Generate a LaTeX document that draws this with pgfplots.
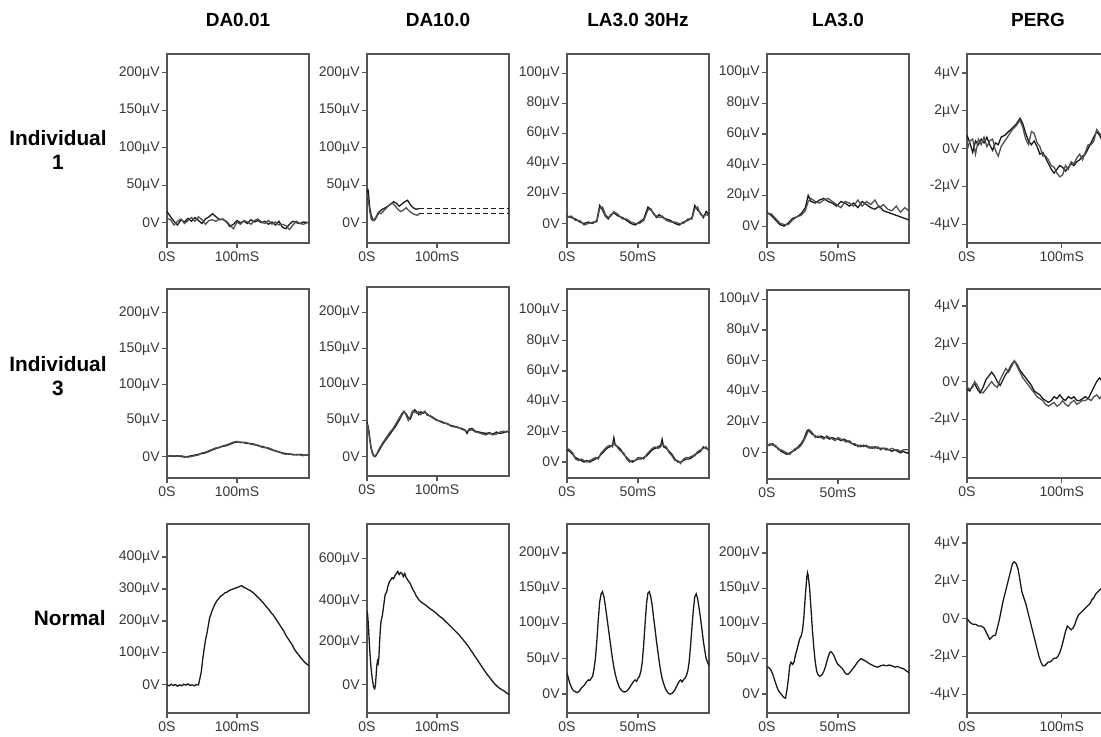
\documentclass[border=0pt]{standalone}
\usepackage{fontspec}
\setmainfont{Liberation Sans}
\usepackage{pgfplots}
\pgfplotsset{compat=1.18}
\definecolor{axgray}{RGB}{85,85,85}
\definecolor{lblgray}{RGB}{55,55,55}
\definecolor{trA}{RGB}{25,25,25}
\definecolor{trB}{RGB}{80,80,80}
\pgfplotsset{
 erg/.style={scale only axis, width=71pt, height=94.5pt, anchor=north west,
  axis line style={draw=axgray, line width=0.75pt},
  tick align=outside, tick pos=left, major tick length=2.5pt,
  tick style={draw=axgray, line width=0.6pt},
  ticklabel style={font=\fontsize{7}{8}\selectfont, text=lblgray},
  yticklabel style={inner sep=1pt}, xticklabel style={inner sep=1.5pt},
  every axis plot/.append style={line width=0.65pt, mark=none}},
 da/.style={xmin=0,xmax=203,xtick={0,100},xticklabels={0S,100mS}},
 daY/.style={ytick={0,50,100,150,200},yticklabels={0V,50µV,100µV,150µV,200µV}},
 la/.style={xmin=0,xmax=100,xtick={0,50},xticklabels={0S,50mS}},
 laY/.style={ytick={0,20,40,60,80,100},yticklabels={0V,20µV,40µV,60µV,80µV,100µV}},
 perg/.style={xmin=0,xmax=150,xtick={0,100},xticklabels={0S,100mS},ymin=-5,ymax=5,
   ytick={-4,-2,0,2,4},yticklabels={-4µV,-2µV,0V,2µV,4µV}},
 A/.style={draw=trA}, B/.style={draw=trB},
}
\begin{document}
\begin{tikzpicture}
\useasboundingbox (0,0) rectangle (550.5pt,368pt);
% titles
\foreach \x/\t in {119/DA0.01,219/DA10.0,319/LA3.0 30Hz,419/LA3.0,519/PERG}
  \node[font=\bfseries\fontsize{9.5}{11}\selectfont] at (\x pt,358pt) {\t};
\node[font=\bfseries\fontsize{10.4}{12}\selectfont, align=center] at (29pt,293pt) {Individual\\1};
\node[font=\bfseries\fontsize{10.4}{12}\selectfont, align=center] at (29pt,180pt) {Individual\\3};
\node[font=\bfseries\fontsize{10.4}{12}\selectfont, anchor=east, inner sep=0pt] at (53pt,59pt) {Normal};

% ---------------- Row 1 ----------------
\begin{axis}[erg, da, daY, at={(83.5pt,341pt)}, ymin=-27, ymax=225]
\addplot[A] coordinates {(0,15)(5,8)(10,2)(15,-3)(20,4)(25,1)(30,6)(35,2)(40,7)(45,3)(50,-1)(55,5)(60,8)(65,12)(70,8)(75,4)(80,5)(85,1)(90,-5)(95,-2)(100,3)(105,0)(110,2)(115,-1)(120,4)(125,1)(130,3)(135,0)(140,2)(145,-2)(150,1)(155,-3)(160,2)(165,-6)(170,-8)(175,-2)(180,2)(185,0)(190,-1)(195,1)(203,0)};
\addplot[B] coordinates {(0,6)(5,4)(10,-3)(15,2)(20,5)(25,-1)(30,3)(35,7)(40,2)(45,8)(50,4)(55,-2)(60,3)(65,4)(70,2)(75,5)(80,4)(85,2)(90,-3)(95,-8)(100,1)(105,-2)(110,3)(115,1)(120,-2)(125,3)(130,5)(135,1)(140,-1)(145,3)(150,-2)(155,1)(160,-3)(165,-2)(170,-4)(175,-9)(180,-3)(185,2)(190,-1)(195,-2)(203,1)};
\end{axis}
\begin{axis}[erg, da, daY, at={(183.5pt,341pt)}, ymin=-27, ymax=225]
\addplot[A] coordinates {(0,45)(1,35)(2,40)(4,20)(6,10)(8,5)(10,3)(12,5)(15,10)(18,15)(22,18)(26,20)(30,22)(34,25)(38,28)(42,26)(46,22)(50,25)(54,28)(58,30)(62,24)(66,20)(70,18)(75,19)};
\addplot[B] coordinates {(0,40)(2,30)(4,15)(6,5)(8,3)(10,4)(13,8)(16,14)(20,12)(24,16)(28,20)(32,24)(36,26)(40,23)(44,18)(48,15)(52,17)(56,20)(60,16)(64,13)(68,11)(72,10)(75,12)};
\addplot[A, dash pattern=on 2.5pt off 1.5pt] coordinates {(75,19)(203,19)};
\addplot[A, dash pattern=on 2.5pt off 1.5pt] coordinates {(75,12)(203,12)};
\end{axis}
\begin{axis}[erg, la, laY, at={(283.5pt,341pt)}, ymin=-13, ymax=113]
\addplot[A] coordinates {(0,5)(3,4)(6,3)(9,1)(12,0)(15,1)(18,0)(21,2)(23,12)(25,9)(27,5)(29,3)(31,6)(33,7)(36,5)(39,4)(42,2)(45,0)(48,-1)(51,1)(54,3)(57,11)(59,9)(61,7)(63,4)(65,6)(67,4)(70,3)(73,2)(76,0)(79,-1)(82,1)(85,2)(88,4)(90,12)(92,9)(94,7)(96,4)(98,8)(100,6)};
\addplot[B] coordinates {(0,4)(3,5)(6,2)(9,2)(12,-1)(15,0)(18,1)(21,1)(23,10)(25,11)(27,6)(29,4)(31,5)(33,8)(36,6)(39,3)(42,3)(45,1)(48,0)(51,0)(54,2)(57,9)(59,10)(61,6)(63,5)(65,4)(67,5)(70,2)(73,1)(76,1)(79,0)(82,0)(85,3)(88,3)(90,10)(92,11)(94,6)(96,5)(98,6)(100,5)};
\end{axis}
\begin{axis}[erg, la, laY, at={(383.5pt,341pt)}, ymin=-11, ymax=112]
\addplot[A] coordinates {(0,9)(3,7)(6,4)(9,1)(12,0)(15,2)(18,5)(21,6)(24,8)(27,12)(29,20)(31,16)(34,15)(37,17)(40,18)(43,16)(46,15)(49,13)(52,16)(55,15)(58,13)(61,15)(64,12)(67,16)(70,14)(73,12)(76,11)(79,13)(82,10)(85,9)(88,8)(91,7)(94,6)(97,5)(100,4)};
\addplot[B] coordinates {(0,8)(3,8)(6,5)(9,2)(12,1)(15,1)(18,4)(21,6)(24,7)(27,10)(29,16)(31,18)(34,16)(37,15)(40,17)(43,18)(46,16)(49,14)(52,12)(55,16)(58,15)(61,13)(64,17)(67,13)(70,16)(73,14)(76,17)(79,12)(82,14)(85,11)(88,10)(91,13)(94,9)(97,12)(100,10)};
\end{axis}
\begin{axis}[erg, perg, at={(483.5pt,341pt)}]
\addplot[A] coordinates {(0,0.7)(3,0.3)(6,-0.2)(9,0.4)(12,0.2)(15,0.5)(18,0.3)(21,0.6)(24,0.2)(27,-0.1)(30,0.3)(33,0.2)(36,0.6)(40,0.7)(44,0.9)(48,1.1)(52,1.3)(56,1.6)(59,1.3)(62,0.8)(65,0.4)(68,0.2)(71,0.4)(74,0.1)(77,-0.3)(80,-0.2)(83,-0.5)(86,-0.8)(89,-1.1)(92,-1.3)(95,-1.1)(98,-0.9)(101,-1.0)(104,-1.2)(107,-1.0)(110,-0.8)(113,-0.9)(116,-0.7)(119,-0.6)(122,-0.4)(125,-0.3)(128,0.0)(131,0.3)(134,0.6)(137,0.9)(140,0.7)(143,0.4)(146,0.6)(150,0.9)};
\addplot[B] coordinates {(0,-0.1)(3,0.4)(6,0.5)(9,-0.3)(12,0.5)(15,0.2)(18,0.6)(21,0.1)(24,0.4)(27,0.5)(30,-0.1)(33,-0.4)(36,0.1)(40,0.4)(44,0.7)(48,1.0)(52,1.2)(56,1.5)(59,1.1)(62,0.5)(65,0.2)(68,0.9)(71,0.8)(74,0.3)(77,0.1)(80,-0.4)(83,-0.4)(86,-0.6)(89,-0.9)(92,-1.0)(95,-1.3)(98,-1.5)(101,-1.4)(104,-0.9)(107,-1.1)(110,-0.7)(113,-0.8)(116,-0.5)(119,-0.3)(122,-0.6)(125,-0.2)(128,0.2)(131,0.2)(134,0.4)(137,1.0)(140,0.8)(143,0.6)(146,0.3)(150,0.7)};
\end{axis}

% ---------------- Row 2 ----------------
\begin{axis}[erg, da, daY, at={(83.5pt,223.5pt)}, ymin=-30, ymax=233]
\addplot[A] coordinates {(0,0)(5,1)(10,0)(15,1)(20,0)(25,-1)(30,0)(35,1)(40,2)(45,3)(50,4)(55,5)(60,7)(65,9)(70,11)(75,13)(80,14)(85,15)(90,17)(95,19)(100,20)(105,20)(110,19)(115,18)(120,18)(125,17)(130,15)(135,14)(140,13)(145,11)(150,9)(155,8)(160,6)(165,5)(170,4)(175,3)(180,3)(185,2)(190,3)(195,2)(203,2)};
\addplot[B] coordinates {(0,1)(5,0)(10,1)(15,0)(20,1)(25,0)(30,-1)(35,0)(40,1)(45,2)(50,5)(55,6)(60,8)(65,10)(70,12)(75,12)(80,15)(85,16)(90,18)(95,20)(100,21)(105,19)(110,20)(115,19)(120,17)(125,16)(130,16)(135,13)(140,12)(145,12)(150,10)(155,7)(160,7)(165,4)(170,3)(175,4)(180,2)(185,3)(190,2)(195,1)(203,3)};
\end{axis}
\begin{axis}[erg, da, daY, at={(183.5pt,224.5pt)}, ymin=-27, ymax=235]
\addplot[A] coordinates {(0,48)(2,40)(4,25)(6,12)(8,5)(10,1)(12,0)(14,3)(17,8)(20,13)(23,18)(26,22)(29,26)(32,30)(35,34)(38,38)(41,42)(44,47)(47,52)(50,58)(53,62)(56,59)(59,54)(62,52)(65,60)(68,65)(71,62)(74,58)(77,62)(80,60)(83,61)(86,59)(90,56)(95,53)(100,50)(105,49)(110,47)(115,45)(120,43)(125,42)(130,40)(135,39)(140,37)(143,32)(146,38)(150,39)(155,35)(160,34)(165,33)(170,32)(175,33)(180,31)(185,34)(190,32)(195,33)(200,35)(203,34)};
\addplot[B] coordinates {(0,45)(2,38)(4,22)(6,10)(8,3)(10,0)(12,1)(14,4)(17,10)(20,15)(23,20)(26,24)(29,28)(32,33)(35,36)(38,40)(41,45)(44,50)(47,55)(50,60)(53,63)(56,57)(59,50)(62,55)(65,63)(68,62)(71,60)(74,62)(77,58)(80,61)(83,63)(86,57)(90,57)(95,54)(100,51)(105,48)(110,46)(115,46)(120,42)(125,41)(130,41)(135,38)(140,36)(143,35)(146,36)(150,37)(155,34)(160,33)(165,31)(170,30)(175,32)(180,30)(185,31)(190,34)(195,35)(200,34)(203,36)};
\end{axis}
\begin{axis}[erg, la, laY, at={(283.5pt,223.5pt)}, ymin=-10.5, ymax=114]
\addplot[A] coordinates {(0,8)(2,7)(4,5)(6,3)(8,2)(10,1)(12,0)(14,1)(16,0)(18,1)(20,2)(22,3)(24,5)(26,7)(28,9)(30,10)(32,11)(33,16)(34,11)(36,10)(38,8)(40,5)(42,3)(44,1)(46,0)(48,1)(50,2)(52,2)(54,3)(56,4)(58,6)(60,8)(62,9)(64,10)(66,11)(67,15)(68,10)(70,9)(72,7)(74,5)(76,2)(78,0)(80,0)(82,1)(84,2)(86,2)(88,3)(90,5)(92,6)(94,7)(96,10)(98,9)(100,8)};
\addplot[B] coordinates {(0,9)(2,8)(4,6)(6,2)(8,1)(10,2)(12,1)(14,0)(16,1)(18,2)(20,3)(22,2)(24,6)(26,8)(28,10)(30,11)(32,10)(33,13)(34,12)(36,9)(38,7)(40,6)(42,2)(44,0)(46,1)(48,1)(50,3)(52,3)(54,2)(56,5)(58,7)(60,9)(62,10)(64,9)(66,10)(67,12)(68,11)(70,10)(72,6)(74,4)(76,1)(78,1)(80,-1)(82,2)(84,3)(86,3)(88,4)(90,4)(92,7)(94,8)(96,9)(98,10)(100,7)};
\end{axis}
\begin{axis}[erg, la, laY, at={(383.5pt,223pt)}, ymin=-17, ymax=106]
\addplot[A] coordinates {(0,5)(2,5)(4,6)(6,4)(8,3)(10,1)(12,0)(14,-1)(16,0)(18,1)(20,2)(22,4)(24,6)(26,9)(28,14)(29,15)(30,14)(32,12)(34,11)(36,10)(38,11)(40,10)(42,10)(44,9)(46,10)(48,9)(50,9)(52,8)(54,9)(56,8)(58,7)(60,6)(62,5)(64,5)(66,4)(68,5)(70,4)(72,4)(74,3)(76,4)(78,3)(80,3)(82,3)(84,2)(86,2)(88,1)(90,2)(92,1)(94,0)(96,1)(98,0)(100,0)};
\addplot[B] coordinates {(0,4)(2,6)(4,5)(6,5)(8,2)(10,2)(12,1)(14,0)(16,-1)(18,1)(20,3)(22,3)(24,5)(26,8)(28,12)(29,14)(30,15)(32,13)(34,10)(36,11)(38,10)(40,9)(42,11)(44,10)(46,9)(48,8)(50,10)(52,9)(54,8)(56,7)(58,8)(60,6)(62,6)(64,4)(66,5)(68,4)(70,5)(72,3)(74,4)(76,3)(78,4)(80,2)(82,3)(84,3)(86,2)(88,3)(90,2)(92,2)(94,1)(96,2)(98,2)(100,2)};
\end{axis}
\begin{axis}[erg, perg, at={(483.5pt,223.5pt)}, ymin=-5.1, ymax=4.9]
\addplot[A] coordinates {(0,-0.4)(3,-0.5)(6,-0.2)(8,-0.1)(11,-0.4)(14,-0.6)(17,-0.3)(20,0.1)(23,0.3)(26,0.5)(29,0.3)(32,0)(35,-0.2)(38,0.1)(41,0.4)(44,0.6)(47,0.9)(50,1.1)(53,0.9)(56,0.6)(59,0.4)(62,0.2)(65,0)(68,-0.2)(71,-0.5)(74,-0.6)(77,-0.7)(80,-0.9)(83,-1.0)(86,-1.1)(89,-1.0)(92,-0.8)(95,-0.9)(98,-0.7)(101,-0.9)(104,-1.0)(107,-0.8)(110,-0.9)(113,-0.8)(116,-1.0)(119,-1.0)(122,-0.9)(125,-0.8)(128,-0.9)(131,-0.6)(134,-0.3)(137,0)(140,0.2)(143,0.0)(146,-0.1)(150,0.1)};
\addplot[B] coordinates {(0,-0.3)(3,-0.4)(6,-0.3)(8,0)(11,-0.2)(14,-0.5)(17,-0.6)(20,-0.4)(23,-0.2)(26,0.0)(29,-0.2)(32,-0.3)(35,0.1)(38,0.4)(41,0.7)(44,0.5)(47,0.8)(50,1.1)(53,0.8)(56,0.5)(59,0.2)(62,0)(65,-0.2)(68,-0.4)(71,-0.6)(74,-0.8)(77,-0.9)(80,-1.0)(83,-1.2)(86,-1.3)(89,-1.2)(92,-1.1)(95,-1.3)(98,-1.2)(101,-1.0)(104,-1.2)(107,-1.3)(110,-1.1)(113,-1.0)(116,-1.2)(119,-1.1)(122,-1.0)(125,-1.0)(128,-0.9)(131,-1.0)(134,-0.8)(137,-0.7)(140,-0.9)(143,-0.7)(146,-0.6)(150,-0.5)};
\end{axis}

% ---------------- Row 3 ----------------
\begin{axis}[erg, da, at={(83.5pt,106pt)}, ymin=-88, ymax=503, ytick={0,100,200,300,400}, yticklabels={0V,100µV,200µV,300µV,400µV}]
\addplot[A] coordinates {(0,0)(3,-3)(6,2)(9,-2)(12,1)(15,-4)(18,0)(21,-3)(24,2)(27,-1)(30,3)(33,-2)(36,0)(39,-3)(42,1)(45,0)(47,20)(49,40)(51,80)(53,110)(55,140)(57,160)(59,185)(61,210)(63,222)(65,235)(68,250)(71,262)(74,270)(77,278)(80,282)(83,288)(86,290)(89,295)(92,298)(95,300)(98,303)(101,305)(104,308)(107,310)(110,305)(113,302)(116,298)(119,295)(122,290)(125,285)(128,278)(131,272)(134,265)(137,258)(140,250)(143,242)(146,235)(149,225)(152,218)(155,208)(158,198)(161,188)(164,178)(167,168)(170,155)(173,145)(176,135)(179,125)(182,112)(185,102)(188,95)(191,85)(194,78)(197,70)(200,65)(203,60)};
\end{axis}
\begin{axis}[erg, da, at={(183.5pt,106pt)}, ymin=-138, ymax=767, ytick={0,200,400,600}, yticklabels={0V,200µV,400µV,600µV}]
\addplot[A] coordinates {(0,350)(1,330)(2,280)(3,220)(4,160)(5,110)(6,70)(7,40)(8,15)(9,-5)(10,-18)(11,-22)(12,-5)(13,40)(14,90)(15,110)(16,100)(17,130)(18,200)(19,260)(20,300)(22,330)(24,380)(26,430)(28,440)(30,470)(32,490)(34,500)(36,510)(38,505)(40,520)(42,530)(44,540)(46,525)(48,535)(50,530)(52,515)(54,530)(56,510)(58,500)(60,490)(62,480)(64,465)(66,450)(68,440)(70,425)(72,415)(75,400)(78,392)(81,385)(84,378)(87,370)(90,362)(93,355)(96,348)(99,340)(102,330)(105,322)(108,315)(111,305)(114,295)(117,285)(120,275)(123,265)(126,255)(129,245)(132,235)(135,222)(138,210)(141,198)(144,185)(147,170)(150,155)(153,140)(156,125)(159,110)(162,95)(165,80)(168,65)(171,50)(174,38)(177,25)(180,12)(183,0)(186,-10)(189,-18)(192,-25)(195,-30)(198,-38)(201,-45)(203,-50)};
\end{axis}
\begin{axis}[erg, la, at={(283.5pt,106pt)}, ymin=-27, ymax=241, ytick={0,50,100,150,200}, yticklabels={0V,50µV,100µV,150µV,200µV}]
\addplot[A] coordinates {(0,30)(1,22)(2,15)(3,10)(4,6)(5,4)(6,3)(7,2)(8,3)(9,5)(10,8)(11,10)(12,12)(13,15)(14,18)(15,20)(16,19)(17,22)(18,25)(19,35)(20,50)(21,75)(22,105)(23,130)(24,142)(25,145)(26,138)(27,125)(28,110)(29,95)(30,80)(31,65)(32,50)(33,38)(34,28)(35,20)(36,14)(37,9)(38,6)(39,4)(40,3)(41,3)(42,4)(43,6)(44,9)(45,12)(46,15)(47,18)(48,20)(49,18)(50,22)(51,25)(52,32)(53,45)(54,70)(55,100)(56,128)(57,143)(58,145)(59,138)(60,125)(61,108)(62,92)(63,75)(64,60)(65,45)(66,32)(67,22)(68,15)(69,9)(70,5)(71,2)(72,0)(73,0)(74,1)(75,3)(76,6)(77,10)(78,14)(79,18)(80,20)(81,17)(82,20)(83,22)(84,26)(85,32)(86,45)(87,68)(88,95)(89,120)(90,138)(91,142)(92,135)(93,122)(94,108)(95,92)(96,75)(97,62)(98,50)(99,45)(100,40)};
\end{axis}
\begin{axis}[erg, la, at={(383.5pt,106pt)}, ymin=-27, ymax=241, ytick={0,50,100,150,200}, yticklabels={0V,50µV,100µV,150µV,200µV}]
\addplot[A] coordinates {(0,38)(1,38)(2,36)(3,33)(4,28)(5,22)(6,16)(7,10)(8,5)(9,2)(10,0)(11,-3)(12,-5)(13,-6)(14,5)(15,20)(16,40)(17,45)(18,42)(19,45)(20,55)(21,62)(22,70)(23,78)(24,82)(25,90)(26,110)(27,140)(28,165)(28.5,172)(29,168)(30,150)(31,120)(32,90)(33,65)(34,45)(35,32)(36,27)(37,25)(38,26)(39,28)(40,32)(41,38)(42,45)(43,52)(44,58)(45,60)(46,58)(47,55)(48,50)(49,45)(50,42)(51,40)(52,38)(53,36)(54,33)(55,30)(56,28)(57,28)(58,30)(59,32)(60,35)(61,37)(62,40)(63,43)(64,46)(65,48)(66,50)(67,49)(68,48)(70,46)(72,43)(74,41)(76,39)(78,38)(80,40)(82,41)(84,40)(86,41)(88,40)(90,38)(92,39)(94,37)(96,36)(98,33)(100,30)};
\end{axis}
\begin{axis}[erg, perg, at={(483.5pt,106pt)}]
\addplot[A] coordinates {(0,0)(3,-0.2)(6,-0.3)(9,-0.3)(12,-0.4)(15,-0.4)(18,-0.5)(20,-0.7)(22,-0.9)(24,-1.1)(26,-1.0)(28,-0.9)(30,-0.9)(32,-0.5)(34,-0.1)(36,0.4)(38,0.9)(40,1.3)(42,1.7)(44,2.1)(46,2.5)(48,2.9)(50,3.0)(52,2.9)(54,2.6)(56,2.0)(58,1.4)(60,1.1)(62,0.8)(64,0.4)(66,0)(68,-0.4)(70,-0.8)(72,-1.2)(74,-1.6)(76,-2.0)(78,-2.3)(80,-2.5)(82,-2.5)(84,-2.4)(86,-2.3)(88,-2.3)(90,-2.2)(92,-2.1)(94,-2.1)(96,-2.0)(98,-1.8)(100,-1.5)(102,-1.1)(104,-0.7)(106,-0.4)(108,-0.5)(110,-0.6)(112,-0.5)(114,-0.3)(116,0)(118,0.2)(120,0.3)(122,0.4)(124,0.5)(126,0.6)(128,0.7)(130,0.8)(132,1.0)(134,1.1)(136,1.3)(138,1.4)(140,1.5)(142,1.6)(144,1.5)(146,1.6)(150,1.7)};
\end{axis}
\end{tikzpicture}
\end{document}
